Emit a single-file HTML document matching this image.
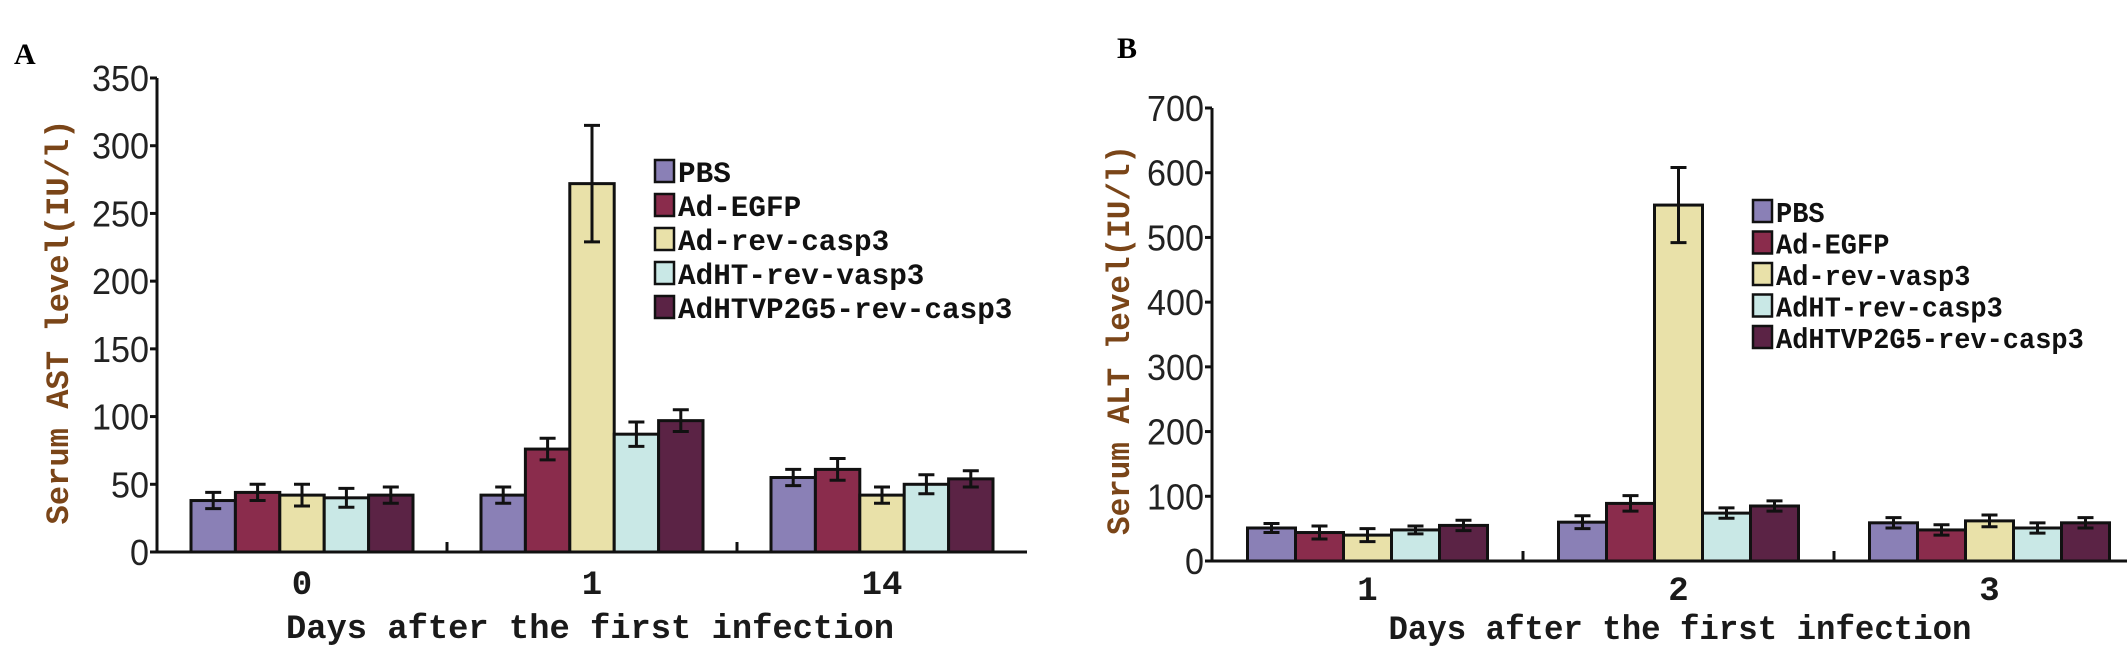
<!DOCTYPE html>
<html><head><meta charset="utf-8"><style>
html,body{margin:0;padding:0;background:#fff;}
svg{display:block;}
</style></head><body>
<svg id="fig" width="2128" height="660" viewBox="0 0 2128 660" xmlns="http://www.w3.org/2000/svg">
<text x="14" y="64" font-family="Liberation Serif, serif" font-weight="bold" font-size="30">A</text>
<text x="1117" y="58" font-family="Liberation Serif, serif" font-weight="bold" font-size="30">B</text>
</svg>
<script>
const seriesNames = ["PBS","Ad-EGFP","Ad-rev-casp3","AdHT-rev-vasp3","AdHTVP2G5-rev-casp3"];
const seriesNamesB = ["PBS","Ad-EGFP","Ad-rev-vasp3","AdHT-rev-casp3","AdHTVP2G5-rev-casp3"];
const colors = ["#8a80b6","#8a2c4c","#e9e1a9","#c9e8e6","#5b2345"];
const catsA = ["0","1","14"];
const pbsA = [38,42,55];
const egfpA = [44,76,61];
const revA = [42,272,42];
const htA = [40,87,50];
const ht5A = [42,97,54];
const errA = [[6,6,6],[6,8,8],[8,43,6],[7,9,7],[6,8,6]];
const ticksA = [0,50,100,150,200,250,300,350];
const catsB = ["1","2","3"];
const pbsB = [51,60,59];
const egfpB = [44,89,48];
const revB = [40,550,62];
const htB = [48,74,51];
const ht5B = [55,85,59];
const errB = [[7,10,8],[10,12,8],[10,58,9],[6,8,8],[8,8,8]];
const ticksB = [0,100,200,300,400,500,600,700];

const svg = document.getElementById('fig');
const NS = "http://www.w3.org/2000/svg";
function mk(tag, attrs, text){
  const e = document.createElementNS(NS, tag);
  for (const k in attrs) e.setAttribute(k, attrs[k]);
  if (text !== undefined) e.textContent = text;
  svg.appendChild(e);
  return e;
}
function panel(cfg){
  const y = v => cfg.y0 - (v / cfg.yMax) * (cfg.y0 - cfg.yTop);
  const gw = cfg.groupW;
  const series = cfg.series;
  cfg.cats.forEach((c, ci) => {
    const gx = cfg.x0 + gw * ci;
    const totalW = cfg.barW * series.length;
    const start = gx + (gw - totalW) / 2;
    series.forEach((s, si) => {
      const v = s[ci];
      const bx = start + si * cfg.barW;
      const r = mk('rect', {x: bx, y: y(v), width: cfg.barW, height: cfg.y0 - y(v), fill: colors[si], stroke: '#111', 'stroke-width': 3});
      
      
      const e = cfg.err[si][ci];
      const cx = bx + cfg.barW / 2;
      const eb = mk('path', {d: `M${cx-8},${y(v+e)}H${cx+8}M${cx},${y(v+e)}V${y(v-e)}M${cx-8},${y(v-e)}H${cx+8}`, stroke: '#111', 'stroke-width': 3, fill: 'none'});
      
      
    });
    const lbl = mk('text', {x: gx + gw / 2, y: cfg.catY, 'text-anchor': 'middle', 'font-family': 'Liberation Mono, monospace', 'font-size': 34, 'font-weight': 'bold', fill: '#1a1a1a'}, c);
    
    
    if (ci > 0) {
      const t = mk('line', {x1: gx, x2: gx, y1: cfg.y0, y2: cfg.y0 - 10, stroke: '#111', 'stroke-width': 3});
      
      
    }
  });
  const ax = mk('path', {d: `M${cfg.x0},${cfg.yTop}V${cfg.y0}H${cfg.x1}`, stroke: '#111', 'stroke-width': 3, fill: 'none'});
  
  
  cfg.ticks.forEach(t => {
    const tk = mk('line', {x1: cfg.x0 - 7, x2: cfg.x0, y1: y(t), y2: y(t), stroke: '#111', 'stroke-width': 3});
    
    
    const s = String(t);
    const tl = mk('text', {x: cfg.x0 - 8, y: y(t) + 13, 'text-anchor': 'end', 'font-family': 'Liberation Sans Narrow, Liberation Sans, sans-serif', 'font-size': 36, fill: '#222', textLength: s.length * 19, lengthAdjust: 'spacingAndGlyphs'}, s);
    
    
  });
  const yt = mk('text', {x: 0, y: 0, transform: `translate(${cfg.yTitleX},${cfg.yTitleY}) rotate(-90)`, 'text-anchor': 'middle', 'font-family': 'Liberation Mono, monospace', 'font-size': 32, 'font-weight': 'bold', fill: '#7a4518', textLength: cfg.yTitleLen, lengthAdjust: 'spacingAndGlyphs'}, cfg.yTitle);
  
  
  const xt = mk('text', {x: cfg.xTitleX, y: cfg.xTitleY, 'text-anchor': 'middle', 'font-family': 'Liberation Mono, monospace', 'font-size': 34, 'font-weight': 'bold', fill: '#1a1a1a', textLength: cfg.xTitleLen, lengthAdjust: 'spacingAndGlyphs'}, 'Days after the first infection');
  
  
  cfg.names.forEach((n, i) => {
    const ly = cfg.legY + i * cfg.legStep;
    const sq = mk('rect', {x: cfg.legX, y: ly - 11, width: 19, height: 22, fill: colors[i], stroke: '#111', 'stroke-width': 2.5});
    
    
    const lt = mk('text', {x: cfg.legX + 23, y: ly + 11, 'font-family': 'Liberation Mono, monospace', 'font-size': cfg.legFont, 'font-weight': 'bold', fill: '#111', textLength: n.length * cfg.legChar, lengthAdjust: 'spacingAndGlyphs'}, n);
    
    
  });
}
panel({id:'a', x0:157, x1:1027, y0:552, yTop:78, yMax:350, groupW:290, barW:44.4,
  cats:catsA, series:[pbsA,egfpA,revA,htA,ht5A], err:errA, ticks:ticksA, names:seriesNames,
  catY:594, yTitle:'Serum AST level(IU/l)', yTitleX:68, yTitleY:322, yTitleLen:405,
  xTitleX:590, xTitleY:638, xTitleLen:608, legX:655, legY:171, legStep:34, legFont:30, legChar:17.6});
panel({id:'b', x0:1212, x1:2127, y0:561, yTop:108, yMax:700, groupW:311, barW:48,
  cats:catsB, series:[pbsB,egfpB,revB,htB,ht5B], err:errB, ticks:ticksB, names:seriesNamesB,
  catY:600, yTitle:'Serum ALT level(IU/l)', yTitleX:1129, yTitleY:340, yTitleLen:390,
  xTitleX:1680, xTitleY:639, xTitleLen:583, legX:1753, legY:211, legStep:31.5, legFont:29, legChar:16.2});
</script>
</body></html>
